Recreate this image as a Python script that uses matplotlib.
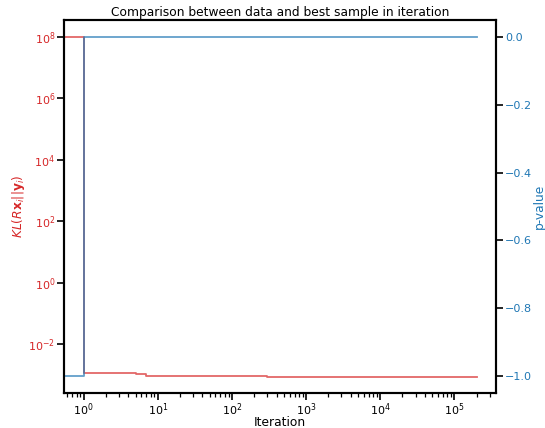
import matplotlib
matplotlib.use("Agg")
import matplotlib.pyplot as plt
import numpy as np

# Iterations where the best sample changed (step-post), and the final iteration
iterations = [0, 1, 5, 7, 12, 19, 56, 300, 3000, 205000]
kl_values = [1e8, 1.16e-3, 1.08e-3, 9.5e-4, 9.3e-4, 9.1e-4, 8.98e-4, 8.9e-4, 8.85e-4, 8.85e-4]
p_values = [-1.0, 0.0, 0.0, 0.0, 0.0, 0.0, 0.0, 0.0, 0.0, 0.0]

FS = 8.8
TFS = 8

fig = plt.figure(figsize=(5.45, 4.28), dpi=100)
ax1 = fig.add_axes([64 / 545, 1 - 393 / 428, (496 - 64) / 545, (393 - 20) / 428])
ax2 = ax1.twinx()

ax1.plot(iterations, kl_values, drawstyle="steps-post", color="tab:red", alpha=0.7, lw=1.3)
ax2.plot(iterations, p_values, drawstyle="steps-post", color="tab:blue", alpha=0.7, lw=1.3)

ax1.set_xscale("log")
ax1.set_yscale("log")
ax1.set_xlim(10 ** -0.266, 10 ** 5.563)
ax1.set_ylim(10 ** -3.585, 10 ** 8.553)

ax1.set_xlabel("Iteration", fontsize=FS, labelpad=-2)
ax1.set_ylabel(r"$KL(R\mathbf{x}_i||\mathbf{y}_i)$", color="tab:red", fontsize=FS, labelpad=1)
ax2.set_ylabel("p-value", color="tab:blue", fontsize=FS, labelpad=1)
ax1.set_title("Comparison between data and best sample in iteration", fontsize=FS, pad=3)

for ax in (ax1, ax2):
    for s in ax.spines.values():
        s.set_linewidth(1.5)
    ax.tick_params(which="major", length=4.8, width=1.2, labelsize=TFS, pad=1.5)
    ax.tick_params(which="minor", length=2.9, width=0.9)

ax1.tick_params(axis="y", labelcolor="tab:red")
ax2.tick_params(axis="y", labelcolor="tab:blue")
ax1.yaxis.set_minor_locator(matplotlib.ticker.NullLocator())

fig.savefig("out.png", dpi=100)
